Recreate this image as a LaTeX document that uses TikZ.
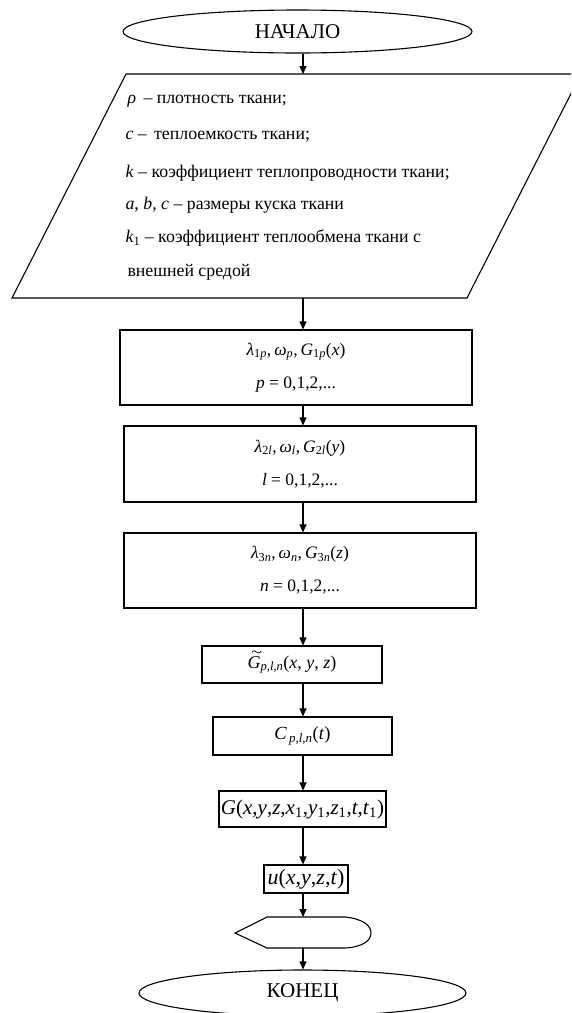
\documentclass[tikz,border=0pt]{standalone}
\usepackage{fontspec}
\setmainfont{Liberation Serif}
\usetikzlibrary{arrows.meta,shapes.geometric,calc}
\newcommand{\iv}[1]{\textit{#1}}
\newcommand{\sbs}[1]{\textsubscript{#1}}
\begin{document}
\begin{tikzpicture}[x=1pt,y=-1pt,line width=1.1pt,
  term/.style={ellipse,draw,inner sep=0pt,font=\fontsize{21}{25}\selectfont},
  procbox/.style={draw,rectangle,inner sep=0pt,align=center,font=\fontsize{17.5}{21}\selectfont},
  partext/.style={anchor=west,inner sep=0pt,font=\fontsize{17.8}{21}\selectfont},
  arr/.style={-{Triangle[length=8pt,width=7pt]}}]
\useasboundingbox (0,0) rectangle (571,1013);
\coordinate (col) at (303,0);

% start terminal
\node[term,minimum width=349pt,minimum height=43pt] (start) at (297.5,31.5) {НАЧАЛО};

% input parallelogram
\begin{scope}
\clip (0,0) rectangle (571,1013);
\draw (126,74) -- (581,74) -- (467,298) -- (12,298) -- cycle;
\end{scope}
\coordinate (paratop) at (303,74);
\coordinate (parabot) at (303,298);
\node[partext] (t1) at (127,101) {\iv{ρ}\, – плотность ткани;};
\node[partext] (t2) at (125,137) {\iv{c} –\, теплоемкость ткани;};
\node[partext] (t3) at (125,173) {\iv{k} – коэффициент теплопроводности ткани;};
\node[partext] (t4) at (125,205) {\iv{a}, \iv{b}, \iv{c} – размеры куска ткани};
\node[partext] (t5) at (125,238) {\iv{k}\sbs{1} – коэффициент теплообмена ткани с};
\node[partext] (t6) at (127,272) {внешней средой};

% process boxes
\node[procbox,minimum width=352pt,minimum height=75pt] (b1) at (296,367.5)
  {\iv{λ}\sbs{1\iv{p}},\,\iv{ω}\sbs{\iv{p}},\,\iv{G}\sbs{1\iv{p}}(\iv{x})\\[12pt] \iv{p} = 0,1,2,...};
\node[procbox,minimum width=352pt,minimum height=76pt] (b2) at (300,464)
  {\iv{λ}\sbs{2\iv{l}},\,\iv{ω}\sbs{\iv{l}},\,\iv{G}\sbs{2\iv{l}}(\iv{y})\\[12pt] \iv{l} = 0,1,2,...};
\node[procbox,minimum width=352pt,minimum height=75pt] (b3) at (300,570.5)
  {\iv{λ}\sbs{3\iv{n}},\,\iv{ω}\sbs{\iv{n}},\,\iv{G}\sbs{3\iv{n}}(\iv{z})\\[12pt] \iv{n} = 0,1,2,...};
\node[procbox,minimum width=180pt,minimum height=37pt,font=\fontsize{18}{21}\selectfont] (b4) at (292,664.5)
  {\iv{G}\sbs{\iv{p},\iv{l},\iv{n}}(\iv{x}, \iv{y}, \iv{z})};
% tilde over G
\draw[line width=0.7pt] ($(b4.center)+(-40,-12)$) .. controls +(1.5,-3) and +(-2,-1) ..
  ($(b4.center)+(-35.5,-12.5)$) .. controls +(2,1) and +(-1.5,3) .. ($(b4.center)+(-31,-13.5)$);
\node[procbox,minimum width=179pt,minimum height=38pt,font=\fontsize{18.5}{22}\selectfont] (b5) at (302.5,736)
  {\iv{C}\sbs{\,\iv{p},\iv{l},\iv{n}}(\iv{t})};
\node[procbox,minimum width=167pt,minimum height=36pt,font=\fontsize{21}{25}\selectfont] (b6) at (302.5,809)
  {\iv{G}(\iv{x},\iv{y},\iv{z},\iv{x}\sbs{1},\iv{y}\sbs{1},\iv{z}\sbs{1},\iv{t},\iv{t}\sbs{1})};
\node[procbox,minimum width=84pt,minimum height=28pt,font=\fontsize{22}{26}\selectfont] (b7) at (306,879)
  {\iv{u}(\iv{x},\iv{y},\iv{z},\iv{t})};

% display shape
\draw (235,933) -- (267,917) -- (345,917) .. controls (364,919) and (371,926) .. (371,933)
  .. controls (371,941) and (362,947) .. (345,948) -- (267,948) -- cycle;
\coordinate (disptop) at (303,917);
\coordinate (dispbot) at (303,948);

% end terminal
\node[term,minimum width=327pt,minimum height=46pt] (end) at (302.5,993) {КОНЕЦ};

% connectors
\draw[arr] (start.south -| col) -- (paratop);
\draw[arr] (parabot) -- (b1.north -| col);
\draw[arr] (b1.south -| col) -- (b2.north -| col);
\draw[arr] (b2.south -| col) -- (b3.north -| col);
\draw[arr] (b3.south -| col) -- (b4.north -| col);
\draw[arr] (b4.south -| col) -- (b5.north -| col);
\draw[arr] (b5.south -| col) -- (b6.north -| col);
\draw[arr] (b6.south -| col) -- (b7.north -| col);
\draw[arr] (b7.south -| col) -- (disptop);
\draw[arr] (dispbot) -- (end.north -| col);
\end{tikzpicture}
\end{document}
